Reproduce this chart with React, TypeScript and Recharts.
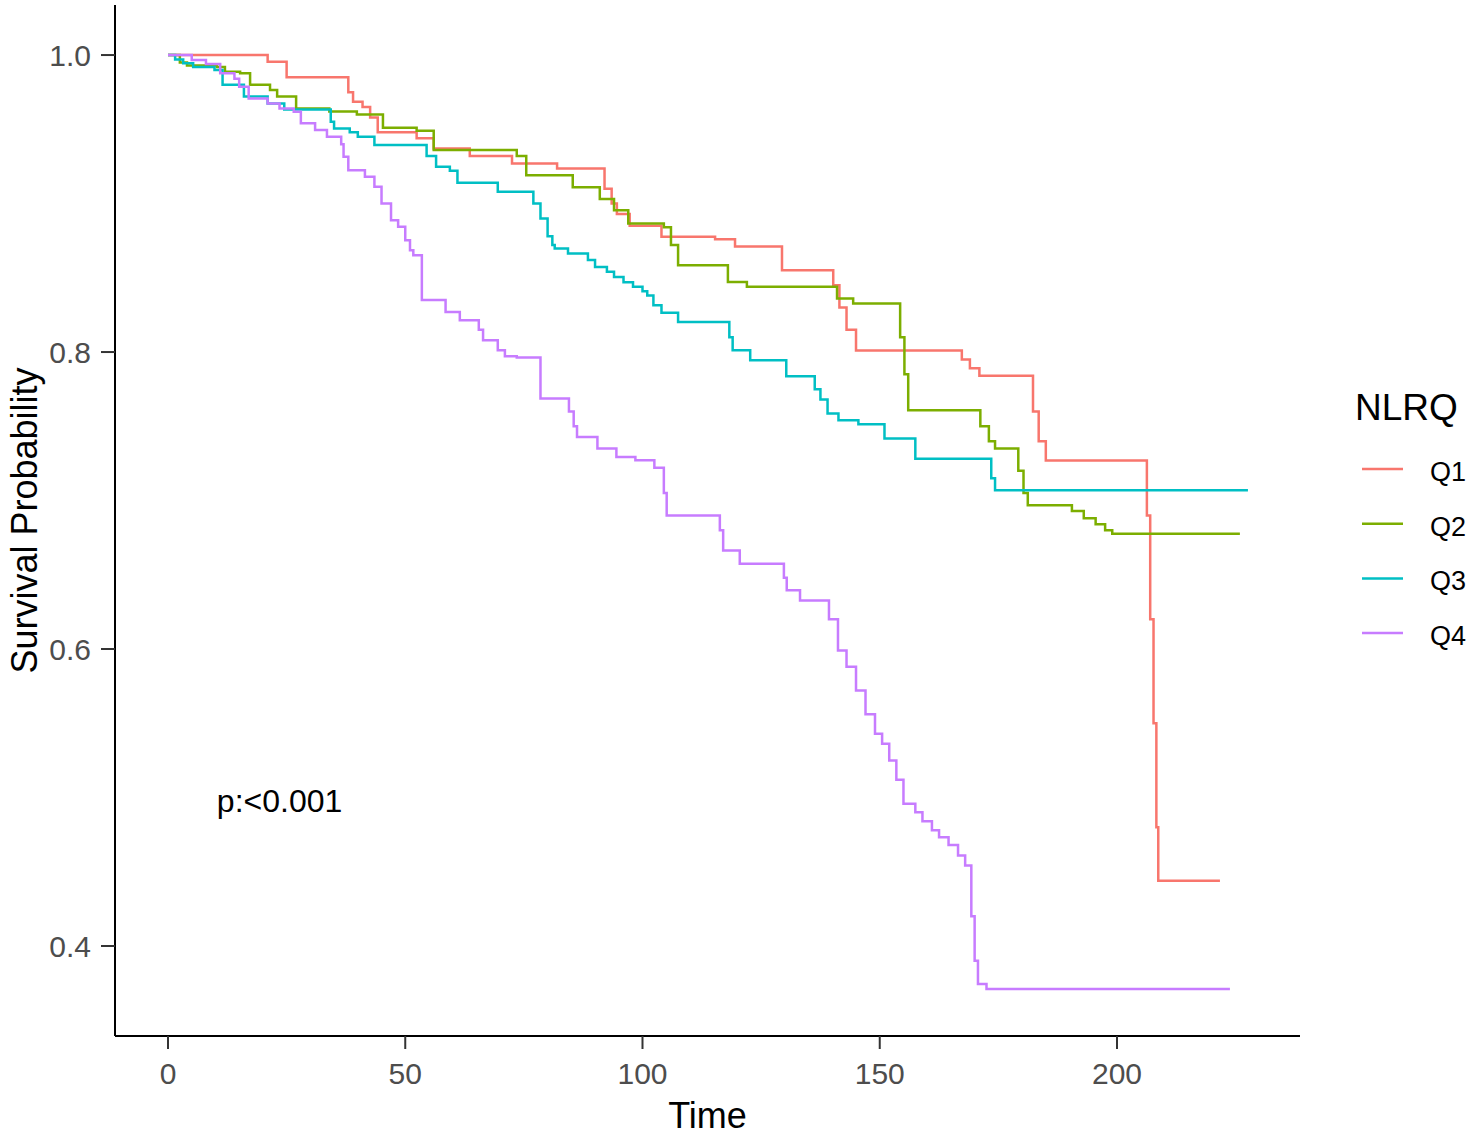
import { LineChart, Line, XAxis, YAxis, ReferenceDot } from 'recharts';

const FONT = '"Liberation Sans", Arial, sans-serif';

const groups = ['Q1', 'Q2', 'Q3', 'Q4'];
const colors = ['#F8766D', '#7CAE00', '#00BFC4', '#C77CFF'];
const legendTitle = 'NLRQ';

const xTicks = [0, 50, 100, 150, 200];
const yTicks = [0.4, 0.6, 0.8, 1.0];

const q1Time = [0, 21, 25, 38, 39, 41, 42.6, 44.2, 52.4, 56, 63.6, 72.5, 82, 92, 93.5, 94.6, 97.3, 104, 115.3, 119.5, 129.4, 140.2, 141.5, 143, 145, 167.3, 169, 171, 182.3, 183.5, 185, 206.3, 207, 207.7, 208.3, 208.7, 221.7];
const q1Surv = [1.0, 0.9955, 0.985, 0.975, 0.9685, 0.965, 0.958, 0.948, 0.944, 0.937, 0.932, 0.927, 0.9236, 0.91, 0.9, 0.893, 0.885, 0.8776, 0.876, 0.871, 0.855, 0.845, 0.83, 0.815, 0.801, 0.795, 0.789, 0.784, 0.76, 0.74, 0.727, 0.69, 0.62, 0.55, 0.48, 0.444, 0.444];

const q2Time = [0, 2.5, 4, 10.3, 12, 15.2, 17.3, 21.5, 23, 27, 34, 39.8, 45.3, 52.4, 56, 73.5, 75.5, 85.3, 91, 94, 97, 104.5, 106, 107.5, 118, 122, 141, 144.4, 154.3, 155.2, 156, 171.2, 173, 174.3, 179.2, 180.3, 181.2, 190.5, 193, 195.5, 197.5, 199, 225.9];
const q2Surv = [1.0, 0.995, 0.993, 0.992, 0.9888, 0.9877, 0.98, 0.9764, 0.972, 0.964, 0.962, 0.96, 0.951, 0.949, 0.936, 0.932, 0.919, 0.911, 0.903, 0.8955, 0.8866, 0.884, 0.872, 0.8585, 0.8472, 0.844, 0.836, 0.8327, 0.81, 0.785, 0.7608, 0.75, 0.74, 0.735, 0.72, 0.705, 0.6968, 0.693, 0.688, 0.684, 0.68, 0.6777, 0.6777];

const q3Time = [0, 1.5, 3.2, 5.3, 9.8, 11.5, 16, 21, 24.5, 34.3, 35, 38.3, 40, 43.5, 54.5, 56.5, 59.4, 61, 69.5, 77, 78.5, 80, 81, 81.5, 84.3, 88.5, 90, 92.5, 94, 96, 98, 100, 101, 102.3, 104, 107.5, 118.3, 119, 122.7, 130.3, 136.3, 137.5, 139, 141.3, 145.5, 151, 157.5, 173.5, 174.3, 227.6];
const q3Surv = [1.0, 0.997, 0.9944, 0.992, 0.99, 0.98, 0.972, 0.9674, 0.9634, 0.955, 0.9506, 0.948, 0.945, 0.9394, 0.932, 0.9247, 0.922, 0.914, 0.908, 0.9, 0.89, 0.878, 0.872, 0.8697, 0.8664, 0.862, 0.8573, 0.854, 0.8506, 0.847, 0.844, 0.841, 0.838, 0.8315, 0.8264, 0.8203, 0.81, 0.8012, 0.7945, 0.7837, 0.775, 0.768, 0.7586, 0.754, 0.7513, 0.7417, 0.7282, 0.715, 0.7069, 0.7069];

const q4Time = [0, 5, 8, 11, 14, 15, 17, 21, 23.5, 26.5, 28, 31, 33.5, 36.5, 37, 38, 41.5, 43.5, 45, 47, 48.5, 50, 51, 51.7, 53.5, 58.5, 61.5, 65.5, 66.4, 69.5, 71, 73.5, 78.5, 84.5, 85.5, 86.2, 90.5, 94.5, 98.5, 102.5, 104.5, 105.1, 116.3, 117, 120.5, 129.8, 130.4, 133.2, 139.3, 141.2, 143, 145, 147, 149, 150.5, 152, 153.5, 155, 157.5, 159, 161, 162.5, 164.5, 166.5, 168, 169.3, 170, 170.7, 172.5, 223.8];
const q4Surv = [1.0, 0.9966, 0.994, 0.9877, 0.984, 0.9786, 0.9708, 0.9674, 0.964, 0.9618, 0.954, 0.9495, 0.945, 0.94, 0.9315, 0.9225, 0.918, 0.9113, 0.9, 0.8888, 0.8843, 0.8753, 0.8686, 0.8652, 0.835, 0.827, 0.8214, 0.815, 0.808, 0.8012, 0.7972, 0.7963, 0.7687, 0.76, 0.75, 0.7428, 0.735, 0.7293, 0.7271, 0.722, 0.705, 0.69, 0.68, 0.6664, 0.6575, 0.648, 0.6395, 0.6327, 0.62, 0.599, 0.588, 0.572, 0.556, 0.543, 0.5362, 0.525, 0.512, 0.4958, 0.49, 0.484, 0.478, 0.4733, 0.468, 0.461, 0.4542, 0.42, 0.39, 0.3745, 0.3711, 0.3711];

const pLabel = 'p:<0.001';

const toPoints = (t: number[], s: number[]) => t.map((x, i) => ({ t: x, s: s[i] }));
const series = [toPoints(q1Time, q1Surv), toPoints(q2Time, q2Surv), toPoints(q3Time, q3Surv), toPoints(q4Time, q4Surv)];

const YTitle = (props: any) => {
  const vb = props.viewBox || { y: 5, height: 1031 };
  const cx = 37;
  const cy = vb.y + vb.height / 2;
  return (
    <text x={cx} y={cy} transform={`rotate(-90 ${cx} ${cy})`} textAnchor="middle" fontSize={36} fontFamily={FONT} fill="#000">
      Survival Probability
    </text>
  );
};

const KeyLegend = () => (
  <svg width={137} height={290} style={{ position: 'absolute', left: 1340, top: 370 }}>
    <text x={15} y={50} fontSize={37} fontFamily={FONT} fill="#000">{legendTitle}</text>
    {groups.map((g, i) => (
      <g key={g}>
        <line x1={22} x2={63} y1={99 + i * 54.7} y2={99 + i * 54.7} stroke={colors[i]} strokeWidth={2.5} />
        <text x={90} y={111 + i * 54.7} fontSize={27} fontFamily={FONT} fill="#000">{g}</text>
      </g>
    ))}
  </svg>
);

export default function App() {
  return (
    <div style={{ position: 'absolute', left: 0, top: 0, width: 1477, height: 1137, background: '#fff' }}>
      <LineChart width={1477} height={1137} margin={{ top: 5, right: 177, bottom: 0, left: 0 }}>
        <XAxis
          type="number"
          dataKey="t"
          domain={[-11.17, 238.57]}
          ticks={xTicks}
          allowDataOverflow
          height={101}
          tickSize={13}
          tickMargin={14}
          axisLine={{ stroke: '#000', strokeWidth: 2 }}
          tickLine={{ stroke: '#333', strokeWidth: 2 }}
          tick={{ fill: '#4D4D4D', fontSize: 30, fontFamily: FONT }}
          label={{ value: 'Time', position: 'insideBottom', offset: 9, fontSize: 36, fontFamily: FONT, fill: '#000' }}
        />
        <YAxis
          type="number"
          domain={[0.3394, 1.0337]}
          ticks={yTicks}
          allowDataOverflow
          width={115}
          tickSize={14}
          tickMargin={10}
          tickFormatter={(v: number) => v.toFixed(1)}
          axisLine={{ stroke: '#000', strokeWidth: 2 }}
          tickLine={{ stroke: '#333', strokeWidth: 2 }}
          tick={{ fill: '#4D4D4D', fontSize: 30, fontFamily: FONT }}
          label={<YTitle />}
        />
        {series.map((data, i) => (
          <Line
            key={groups[i]}
            name={groups[i]}
            data={data}
            dataKey="s"
            type="stepAfter"
            stroke={colors[i]}
            strokeWidth={2.5}
            dot={false}
            activeDot={false}
            isAnimationActive={false}
          />
        ))}
        <ReferenceDot
          x={10.3}
          y={0.498}
          r={0}
          fill="none"
          stroke="none"
          label={{ value: pLabel, position: 'right', offset: 0, fontSize: 32, fontFamily: FONT, fill: '#000' }}
        />
      </LineChart>
      <KeyLegend />
    </div>
  );
}
